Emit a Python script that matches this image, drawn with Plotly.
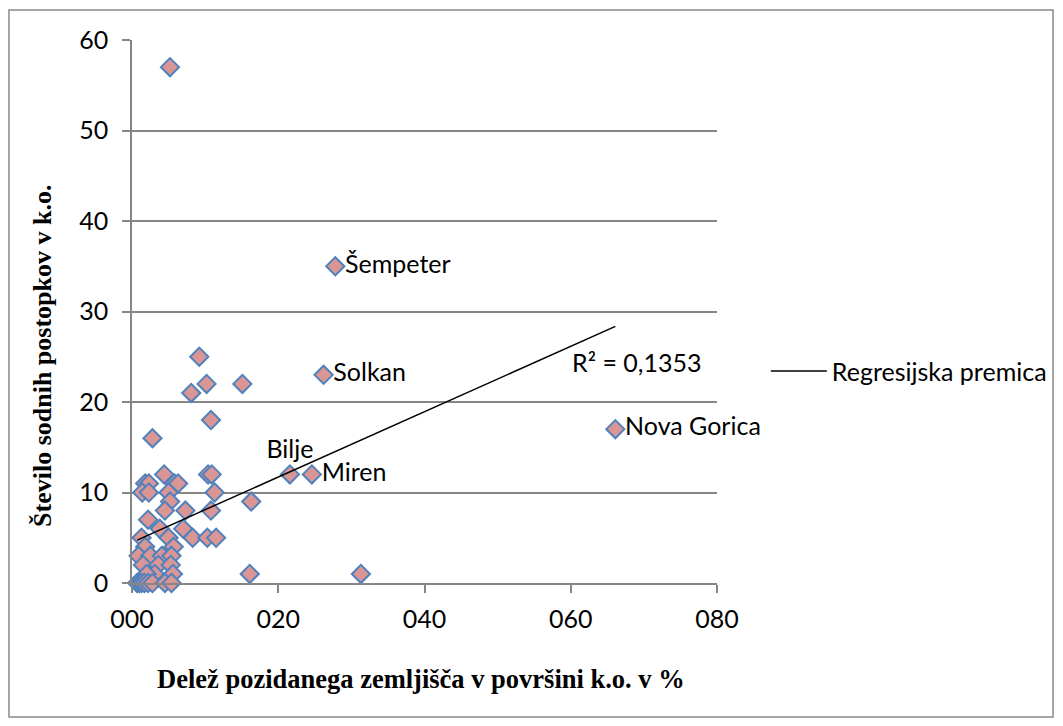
import plotly.graph_objects as go

# Data
x_share = [5.2, 27.8, 26.2, 66.1, 24.6, 21.6, 31.3, 16.1, 16.3, 10.8,
           10.4, 10.9, 11.3, 10.8, 8.3, 10.3, 11.5, 9.2, 10.2, 8.1,
           15.1, 2.8, 4.4, 1.8, 2.3, 1.4, 2.3, 5.8, 6.3, 5.0,
           5.2, 4.5, 7.3, 2.2, 3.8, 7.0, 5.0, 1.3, 1.8, 5.7,
           0.9, 2.5, 4.1, 5.4, 1.5, 3.6, 5.3, 3.1, 5.6, 2.0,
           0.7, 1.0, 1.3, 1.7, 2.2, 2.8, 4.5, 5.4]
y_cases = [57, 35, 23, 17, 12, 12, 1, 1, 9, 18,
           12, 12, 10, 8, 5, 5, 5, 25, 22, 21,
           22, 16, 12, 11, 11, 10, 10, 11, 11, 10,
           9, 8, 8, 7, 6, 6, 5, 5, 4, 4,
           3, 3, 3, 3, 2, 2, 2, 1, 1, 1,
           0, 0, 0, 0, 0, 0, 0, 0]
point_labels = ["", "Šempeter", "Solkan", "Nova Gorica", "Miren", "Bilje"] + [""] * 52
label_pos = ["middle right", "middle right", "middle right", "middle right",
             "middle right", "top center"] + ["middle right"] * 52

trend_intercept = 4.49
trend_slope = 0.361
r2_text = "R² = 0,1353"

x_tickvals = [0, 20, 40, 60, 80]
x_ticktext = ["000", "020", "040", "060", "080"]
y_tickvals = [0, 10, 20, 30, 40, 50, 60]

x_title = "Delež pozidanega zemljišča v površini k.o. v %"
y_title = "Število sodnih postopkov v k.o."
legend_name = "Regresijska premica"

trend_x = [min(x_share), max(x_share)]
trend_y = [trend_intercept + trend_slope * v for v in trend_x]

FONT = "Lato"
SERIF = "Liberation Serif"
FS = 25

fig = go.Figure()
fig.add_trace(go.Scatter(
    x=x_share, y=y_cases, mode="markers+text",
    text=point_labels, textposition=label_pos,
    textfont=dict(family=FONT, size=FS, color="#000000"),
    marker=dict(symbol="diamond", size=14, color="#D99694",
                line=dict(color="#4F81BD", width=2)),
    showlegend=False, cliponaxis=False,
))
fig.add_trace(go.Scatter(
    x=trend_x, y=trend_y, mode="lines", name=legend_name,
    line=dict(color="#000000", width=1.5), showlegend=True,
))

fig.add_annotation(x=69.0, y=24.4, xref="x", yref="y", text=r2_text,
                   showarrow=False, font=dict(family=FONT, size=FS, color="#000000"))
fig.add_annotation(x=0.494, y=-0.177, xref="paper", yref="paper",
                   text="<b>" + x_title + "</b>",
                   showarrow=False, font=dict(family=SERIF, size=26.5, color="#000000"),
                   xanchor="center", yanchor="middle")
fig.add_annotation(x=-0.153, y=0.419, xref="paper", yref="paper",
                   text="<b>" + y_title + "</b>",
                   textangle=-90, showarrow=False,
                   font=dict(family=SERIF, size=26, color="#000000"),
                   xanchor="center", yanchor="middle")

fig.add_shape(type="rect", xref="paper", yref="paper",
              x0=-0.2103, x1=1.5744, y0=-0.2468, y1=1.0552,
              line=dict(color="#898989", width=1.5), layer="below")

fig.update_layout(
    width=1063, height=726,
    margin=dict(l=124, r=354, t=32, b=151),
    paper_bgcolor="white", plot_bgcolor="white",
    font=dict(family=FONT, size=FS, color="#000000"),
    legend=dict(x=1.0835, y=0.39, xanchor="left", yanchor="middle",
                font=dict(family=FONT, size=FS, color="#000000"),
                itemwidth=56, bgcolor="rgba(0,0,0,0)"),
)
fig.update_xaxes(
    range=[0, 80], tickvals=x_tickvals, ticktext=x_ticktext,
    showgrid=False, zeroline=False,
    showline=True, linecolor="#868686", linewidth=1.5,
    ticks="outside", ticklen=8, tickcolor="#868686", tickwidth=1.5,
    ticklabelstandoff=5,
    tickfont=dict(family=FONT, size=FS, color="#000000"),
)
fig.update_yaxes(
    range=[0, 60], tickvals=y_tickvals,
    showgrid=True, gridcolor="#868686", gridwidth=1.5, zeroline=False,
    showline=True, linecolor="#868686", linewidth=1.5,
    ticks="outside", ticklen=8, tickcolor="#868686", tickwidth=1.5,
    ticklabelstandoff=9,
    tickfont=dict(family=FONT, size=FS, color="#000000"),
)

fig.write_html("out.html")
